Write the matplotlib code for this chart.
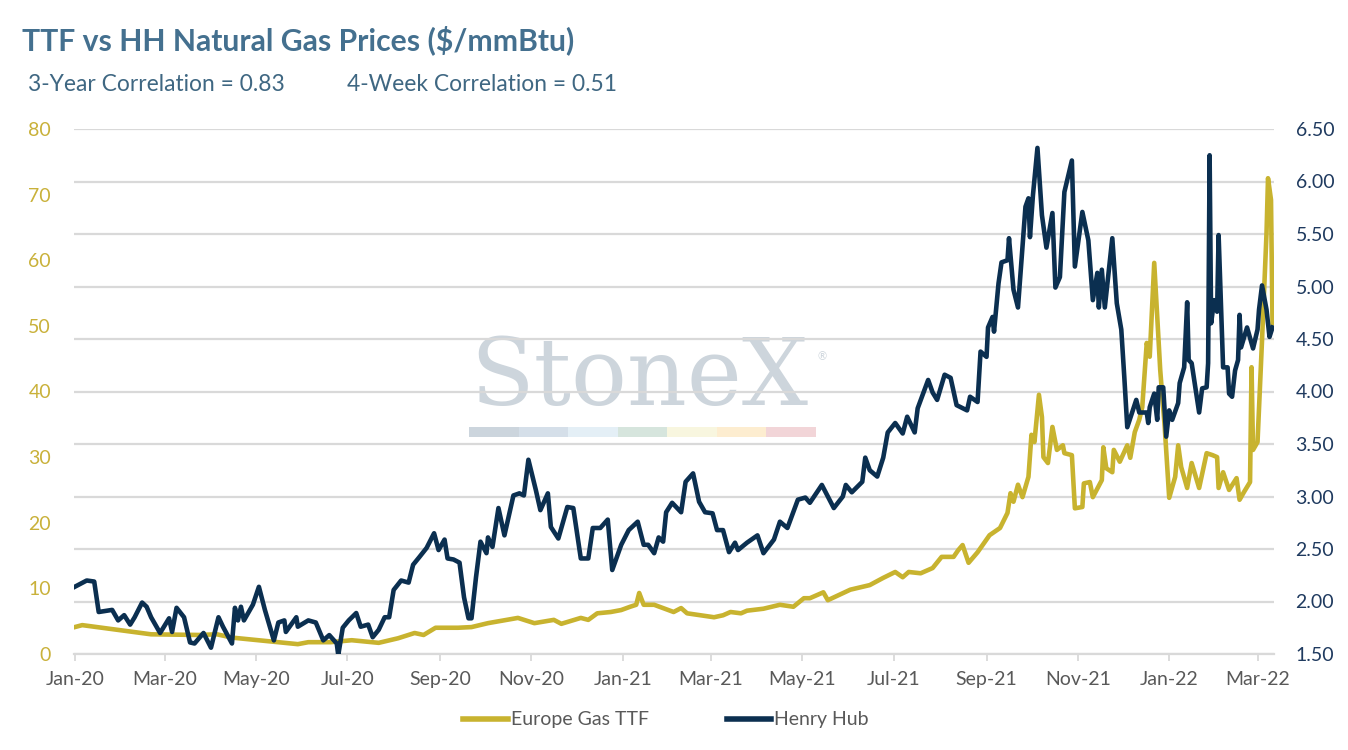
import matplotlib.pyplot as plt
import matplotlib.dates as mdates
from matplotlib.lines import Line2D
from matplotlib.patches import Rectangle
import pandas as pd

plt.rcParams['font.family'] = ['Lato', 'DejaVu Sans']

# days since 2020-01-01 and Henry Hub price ($/mmBtu)
hh_days = [0, 8, 13, 16, 25, 29, 33, 37, 40, 45, 48, 51, 57, 63, 65, 68, 73, 77, 80, 86,
           91, 96, 99, 105, 107, 109, 111, 113, 119, 123, 127, 133, 136, 140, 141, 148, 149, 156, 161, 166,
           170, 175, 176, 179, 183, 188, 191, 196, 199, 203, 207, 210, 213, 218, 223, 226, 230, 235, 240, 243,
           247, 249, 253, 257, 260, 263, 265, 268, 271, 275, 276, 279, 283, 287, 293, 297, 300, 303, 308, 311,
           316, 318, 323, 329, 333, 338, 343, 346, 351, 356, 359, 365, 370, 376, 380, 383, 387, 390, 393, 395,
           399, 405, 408, 413, 417, 421, 426, 429, 433, 437, 441, 443, 449, 456, 460, 467, 471, 476, 483, 488,
           491, 499, 507, 513, 515, 519, 526, 528, 531, 536, 540, 543, 548, 553, 556, 561, 563, 570, 573, 576,
           581, 585, 589, 596, 598, 603, 605, 609, 610, 613, 614, 617, 619, 623, 624, 627, 630, 635, 637, 638,
           640, 643, 646, 649, 653, 655, 658, 661, 666, 668, 673, 677, 680, 683, 684, 686, 688, 693, 696, 699,
           701, 703, 709, 711, 716, 717, 718, 721, 723, 724, 727, 729, 731, 733, 737, 738, 741, 743, 744, 746,
           751, 753, 756, 757, 758, 759, 761, 763, 764, 767, 770, 771, 773, 775, 777, 778, 779, 783, 787, 790,
           791, 793, 796, 798, 800]
hh_vals = [2.14, 2.20, 2.19, 1.90, 1.92, 1.82, 1.87, 1.78, 1.85, 1.99, 1.95, 1.85, 1.70, 1.84, 1.71, 1.94, 1.85, 1.61, 1.60, 1.70,
           1.56, 1.85, 1.76, 1.60, 1.94, 1.82, 1.95, 1.82, 1.97, 2.14, 1.92, 1.63, 1.80, 1.82, 1.71, 1.85, 1.76, 1.82, 1.80, 1.63,
           1.68, 1.60, 1.49, 1.75, 1.82, 1.89, 1.76, 1.78, 1.66, 1.73, 1.85, 1.85, 2.11, 2.20, 2.18, 2.35, 2.42, 2.51, 2.65, 2.49,
           2.59, 2.41, 2.40, 2.37, 2.04, 1.84, 1.84, 2.23, 2.57, 2.46, 2.61, 2.52, 2.89, 2.63, 3.01, 3.03, 3.01, 3.35, 3.06, 2.87,
           3.03, 2.71, 2.60, 2.90, 2.89, 2.41, 2.41, 2.70, 2.70, 2.78, 2.30, 2.54, 2.68, 2.76, 2.54, 2.54, 2.46, 2.61, 2.57, 2.85,
           2.94, 2.85, 3.14, 3.22, 2.95, 2.85, 2.84, 2.68, 2.68, 2.47, 2.56, 2.49, 2.56, 2.63, 2.46, 2.59, 2.76, 2.70, 2.97, 2.99,
           2.94, 3.11, 2.89, 3.00, 3.11, 3.04, 3.14, 3.37, 3.25, 3.19, 3.37, 3.61, 3.70, 3.60, 3.76, 3.61, 3.84, 4.11, 3.99, 3.92,
           4.16, 4.13, 3.87, 3.82, 3.95, 3.90, 4.38, 4.33, 4.61, 4.71, 4.57, 5.03, 5.23, 5.25, 5.46, 4.97, 4.80, 5.76, 5.84, 5.47,
           5.87, 6.32, 5.68, 5.37, 5.70, 4.99, 5.09, 5.90, 6.20, 5.19, 5.71, 5.44, 4.87, 5.13, 4.80, 5.16, 4.80, 5.46, 4.84, 4.59,
           4.14, 3.66, 3.92, 3.80, 3.80, 3.70, 3.85, 3.98, 3.73, 4.04, 4.04, 3.57, 3.82, 3.73, 3.89, 4.08, 4.23, 4.85, 4.30, 4.27,
           3.80, 4.03, 4.04, 4.27, 6.25, 4.65, 4.87, 4.76, 5.49, 4.23, 4.23, 3.98, 3.95, 4.20, 4.30, 4.73, 4.42, 4.61, 4.41, 4.59,
           4.78, 5.01, 4.78, 4.52, 4.61]

# days since 2020-01-01 and Europe Gas TTF price ($/mmBtu)
ttf_days = [0, 5, 18, 31, 51, 83, 95, 105, 127, 149, 156, 171, 185, 203, 216, 227, 233, 241, 256, 265,
            276, 296, 307, 320, 325, 338, 343, 349, 358, 365, 371, 375, 377, 380, 387, 393, 400, 405, 409, 418,
            427, 433, 438, 445, 449, 460, 471, 480, 487, 491, 500, 503, 518, 531, 540, 548, 553, 557, 565, 573,
            579, 587, 590, 593, 597, 603, 611, 618, 623, 625, 627, 630, 633, 637, 639, 641, 644, 646, 647, 650,
            653, 656, 660, 661, 666, 668, 673, 674, 678, 680, 686, 687, 689, 693, 694, 698, 703, 705, 708, 711,
            713, 716, 718, 721, 725, 728, 731, 735, 737, 739, 743, 746, 751, 756, 760, 763, 764, 767, 771, 776,
            778, 781, 785, 786, 787, 790, 793, 796, 797, 799, 800]
ttf_vals = [4.1, 4.4, 4.0, 3.6, 3.0, 2.9, 3.0, 2.5, 2.0, 1.5, 1.8, 1.8, 2.1, 1.7, 2.4, 3.2, 2.9, 4.0, 4.0, 4.1,
            4.7, 5.5, 4.7, 5.2, 4.6, 5.5, 5.2, 6.2, 6.4, 6.7, 7.2, 7.5, 9.3, 7.5, 7.5, 7.0, 6.4, 7.0, 6.2, 5.9,
            5.6, 5.9, 6.4, 6.2, 6.6, 6.9, 7.5, 7.2, 8.5, 8.5, 9.4, 8.2, 9.8, 10.5, 11.6, 12.5, 11.7, 12.5, 12.3, 13.1,
            14.8, 14.8, 15.8, 16.6, 13.9, 15.5, 18.1, 19.2, 21.5, 24.5, 23.2, 25.8, 23.9, 27.0, 33.4, 32.3, 39.5, 36.1, 30.0, 29.1,
            34.6, 31.1, 31.8, 30.6, 30.3, 22.2, 22.4, 26.0, 26.2, 23.9, 26.5, 31.5, 28.3, 27.7, 31.1, 29.3, 31.8, 29.9, 33.8, 35.7,
            37.6, 47.4, 45.3, 59.6, 43.3, 34.6, 23.8, 27.0, 31.8, 28.5, 25.3, 29.1, 25.3, 30.6, 30.3, 30.0, 25.3, 27.7, 25.0, 26.8,
            23.5, 24.7, 26.2, 43.7, 31.1, 32.3, 47.8, 64.1, 72.5, 69.2, 50.4]

start = pd.Timestamp('2020-01-01')
hh_dates = start + pd.to_timedelta(hh_days, unit='D')
ttf_dates = start + pd.to_timedelta(ttf_days, unit='D')

title = 'TTF vs HH Natural Gas Prices ($/mmBtu)'
corr_3y = '3-Year Correlation = 0.83'
corr_4w = '4-Week Correlation = 0.51'

gold = '#C8B32F'
navy = '#0B2F50'
grid_c = '#D9D9D9'
text_grey = '#595959'

fig = plt.figure(figsize=(13.48, 7.5), dpi=100)
pos = [74 / 1348, 1 - 654 / 750, 1200 / 1348, 525 / 750]

# bottom layer: grid + date axis (HH scale so grid follows right axis)
ax = fig.add_axes(pos)
ax.set_facecolor('none')
ax.set_ylim(1.5, 6.5)
ax.set_yticks([1.5 + 0.5 * i for i in range(11)])
ax.grid(axis='y', color=grid_c, lw=1.6)
for s in ['top', 'left', 'right']:
    ax.spines[s].set_visible(False)
ax.spines['bottom'].set_color(grid_c)
ax.spines['bottom'].set_linewidth(1.6)
ax.set_xlim(start - pd.Timedelta(days=0.5), start + pd.Timedelta(days=801))
ax.xaxis.set_major_locator(mdates.MonthLocator(bymonth=[1, 3, 5, 7, 9, 11]))
ax.xaxis.set_major_formatter(mdates.DateFormatter('%b-%y'))
ax.tick_params(axis='x', direction='out', length=5, width=1.3, color=grid_c,
               labelcolor=text_grey, labelsize=14, pad=7)

# TTF on left axis
ax_t = ax.twinx()
ax_t.yaxis.tick_left()
ax_t.plot(ttf_dates, ttf_vals, color=gold, lw=3.3, solid_joinstyle='round')
ax_t.set_ylim(0, 80)
ax_t.set_yticks(range(0, 81, 10))
ax_t.tick_params(axis='y', left=False, right=False, labelcolor='#C9B13A', labelsize=14, pad=13)

# HH on right axis
ax_h = ax.twinx()
ax_h.plot(hh_dates, hh_vals, color=navy, lw=3.3, solid_joinstyle='round')
ax_h.set_ylim(1.5, 6.5)
ax_h.set_yticks([1.5 + 0.5 * i for i in range(11)])
ax_h.yaxis.set_major_formatter(plt.FuncFormatter(lambda v, p: f'{v:.2f}'))
ax_h.tick_params(axis='y', left=False, right=False, labelcolor='#1F3A5F', labelsize=14, pad=12)

# twinx turns the base axes' left ticks back on, so hide them afterwards
ax.tick_params(axis='y', left=False, right=False, labelleft=False, labelright=False)

for a in (ax_t, ax_h):
    for s in a.spines.values():
        s.set_visible(False)

# watermark behind the gridlines
ax.text(470 / 1348, 1 - 405 / 750, 'StoneX', transform=fig.transFigure, family='DejaVu Serif',
        fontsize=67, color='#CDD5DC', ha='left', va='baseline', zorder=1)
ax.text(818 / 1348, 1 - 360 / 750, '®', transform=fig.transFigure, fontsize=8,
        color='#CDD5DC', ha='left', va='baseline', zorder=1)
bar_colors = ['#CCD5DD', '#D5DFE9', '#E4EFF6', '#D6E5DD', '#F8F6DF', '#FDEDD0', '#F2D5D8']
seg = 347 / 7
for i, c in enumerate(bar_colors):
    ax.add_patch(Rectangle(((469 + i * seg) / 1348, 1 - 437 / 750), seg / 1348, 10 / 750,
                           transform=fig.transFigure, facecolor=c, edgecolor='none',
                           zorder=1, clip_on=False))

fig.text(22 / 1348, 1 - 50 / 750, title, fontsize=21.7, fontweight='bold', color='#44708F',
         ha='left', va='baseline')
fig.text(28 / 1348, 1 - 91 / 750, corr_3y, fontsize=16.4, color='#3F6782', ha='left', va='baseline')
fig.text(347 / 1348, 1 - 91 / 750, corr_4w, fontsize=16.4, color='#3F6782', ha='left', va='baseline')

handles = [Line2D([], [], color=gold, lw=4), Line2D([], [], color=navy, lw=4)]
fig.legend(handles, ['Europe Gas TTF', 'Henry Hub'], loc='center', bbox_to_anchor=(666 / 1348, 1 - 720 / 750),
           ncol=2, frameon=False, fontsize=14, labelcolor=text_grey, handlelength=2.3,
           handletextpad=0.15, columnspacing=4.0)

plt.savefig('out.png', dpi=100)
